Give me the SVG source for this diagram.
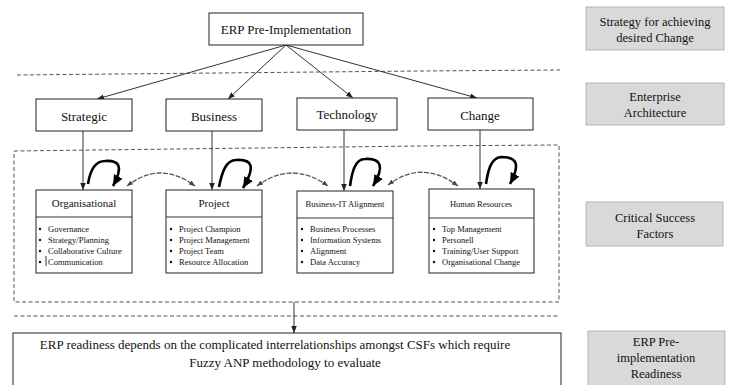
<svg xmlns="http://www.w3.org/2000/svg" width="729" height="385" viewBox="0 0 729 385" font-family="'Liberation Serif', 'DejaVu Serif', serif">
<style>
text{font-family:'Liberation Serif','DejaVu Serif',serif;fill:#111}
.box{fill:#fff;stroke:#222;stroke-width:1}
.grey{fill:#d9d9d9;stroke:#b5b5b5;stroke-width:1}
.t13{font-size:13px;text-anchor:middle}
.tg{font-size:12.5px;text-anchor:middle}
.tt{font-size:11px;text-anchor:middle}
.ts{font-size:8.5px;text-anchor:middle}
.li{font-size:8.5px}
.dash{fill:none;stroke:#555;stroke-width:1;stroke-dasharray:4 2.5}
.ln{fill:none;stroke:#333;stroke-width:1}
.loop{fill:none;stroke:#000;stroke-width:2.6}
.rel{fill:none;stroke:#555;stroke-width:1.3;stroke-dasharray:5 1.5}
</style>
<defs>
<marker id="a" viewBox="0 0 10 10" refX="10" refY="5" markerWidth="7" markerHeight="7" markerUnits="userSpaceOnUse" orient="auto"><path d="M0,1 L10,5 L0,9 z" fill="#222"/></marker>
<marker id="big" viewBox="0 0 10 10" refX="10" refY="5" markerWidth="11" markerHeight="11" markerUnits="userSpaceOnUse" orient="auto"><path d="M0,0.5 L10,5 L0,9.5 z" fill="#000"/></marker>
<marker id="r" viewBox="0 0 10 10" refX="10" refY="5" markerWidth="6" markerHeight="6" markerUnits="userSpaceOnUse" orient="auto"><path d="M0,1 L10,5 L0,9 z" fill="#444"/></marker>
<marker id="rs" viewBox="0 0 10 10" refX="0" refY="5" markerWidth="6" markerHeight="6" markerUnits="userSpaceOnUse" orient="auto"><path d="M10,1 L0,5 L10,9 z" fill="#444"/></marker>
</defs>

<g id="bands">
<path class="dash" d="M17 75 L420 71 L560 70"/>
<path class="dash" d="M14 151 L420 146 L559 145 L559 302 L14 302 Z"/>
<path class="dash" d="M14 316 L560 316"/>
</g>

<g id="connectors">
<path class="ln" d="M286 45 L97 99" marker-end="url(#a)"/>
<path class="ln" d="M286 45 L228 99" marker-end="url(#a)"/>
<path class="ln" d="M286 45 L353 98" marker-end="url(#a)"/>
<path class="ln" d="M286 45 L477 98" marker-end="url(#a)"/>
<path class="ln" d="M83 131 L83 190" marker-end="url(#a)"/>
<path class="ln" d="M212 131 L212 190" marker-end="url(#a)"/>
<path class="ln" d="M344 130 L344 191" marker-end="url(#a)"/>
<path class="ln" d="M480 130 L480 189" marker-end="url(#a)"/>
<path class="ln" d="M294 302 L294 333" marker-end="url(#a)"/>
<path class="loop" d="M88 184 C90 171 95 161 105 161 C119 160 124 166 113 186" marker-end="url(#big)"/>
<path class="loop" d="M219 187 C222 172 226 160 236 160 C252 159 256 166 243 188" marker-end="url(#big)"/>
<path class="loop" d="M350 186 C352 172 355 159 365 159 C381 158 385 166 373 186" marker-end="url(#big)"/>
<path class="loop" d="M486 184 C488 170 491 158 501 157 C518 157 520 165 510 184" marker-end="url(#big)"/>
<path class="rel" d="M127 186 Q160 160 195 186" marker-start="url(#rs)" marker-end="url(#r)"/>
<path class="rel" d="M257 186 Q292 160 328 186" marker-start="url(#rs)" marker-end="url(#r)"/>
<path class="rel" d="M388 185 Q422 159 458 186" marker-start="url(#rs)" marker-end="url(#r)"/>
</g>

<g id="erp-pre-implementation">
<rect class="box" x="209" y="13" width="154" height="32"/>
<text class="t13" x="286" y="34">ERP Pre-Implementation</text>
</g>

<g id="strategic"><rect class="box" x="36" y="99" width="96" height="32"/><text class="t13" x="84" y="121">Strategic</text></g>
<g id="business"><rect class="box" x="166" y="99" width="96" height="32"/><text class="t13" x="214" y="121">Business</text></g>
<g id="technology"><rect class="box" x="297" y="98" width="100" height="32"/><text class="t13" x="347" y="119">Technology</text></g>
<g id="change"><rect class="box" x="428" y="98" width="105" height="32"/><text class="t13" x="480" y="120">Change</text></g>

<g id="organisational">
<rect class="box" x="36" y="190" width="96" height="83"/>
<line class="ln" x1="36" y1="217" x2="132" y2="217"/>
<text class="tt" x="84" y="207">Organisational</text>
<g fill="#111"><circle cx="40" cy="229" r="1.2"/><circle cx="40" cy="240" r="1.2"/><circle cx="40" cy="251" r="1.2"/><circle cx="40" cy="262" r="1.2"/></g>
<line class="ln" x1="46" y1="256" x2="46" y2="266"/>
<text class="li" x="48" y="232">Governance</text>
<text class="li" x="48" y="243">Strategy/Planning</text>
<text class="li" x="48" y="254">Collaborative Culture</text>
<text class="li" x="48" y="265">Communication</text>
</g>

<g id="project">
<rect class="box" x="166" y="190" width="96" height="83"/>
<line class="ln" x1="166" y1="217" x2="262" y2="217"/>
<text class="tt" x="214" y="207">Project</text>
<g fill="#111"><circle cx="171" cy="229" r="1.2"/><circle cx="171" cy="240" r="1.2"/><circle cx="171" cy="251" r="1.2"/><circle cx="171" cy="262" r="1.2"/></g>
<text class="li" x="179" y="232">Project Champion</text>
<text class="li" x="179" y="243">Project Management</text>
<text class="li" x="179" y="254">Project Team</text>
<text class="li" x="179" y="265">Resource Allocation</text>
</g>

<g id="business-it-alignment">
<rect class="box" x="297" y="191" width="96" height="82"/>
<line class="ln" x1="297" y1="218" x2="393" y2="218"/>
<text class="ts" x="345" y="207">Business-IT Alignment</text>
<g fill="#111"><circle cx="302" cy="229" r="1.2"/><circle cx="302" cy="240" r="1.2"/><circle cx="302" cy="251" r="1.2"/><circle cx="302" cy="262" r="1.2"/></g>
<text class="li" x="310" y="232">Business Processes</text>
<text class="li" x="310" y="243">Information Systems</text>
<text class="li" x="310" y="254">Alignment</text>
<text class="li" x="310" y="265">Data Accuracy</text>
</g>

<g id="human-resources">
<rect class="box" x="429" y="189" width="105" height="84"/>
<line class="ln" x1="429" y1="218" x2="534" y2="218"/>
<text class="ts" x="481" y="207">Human Resources</text>
<g fill="#111"><circle cx="434" cy="229" r="1.2"/><circle cx="434" cy="240" r="1.2"/><circle cx="434" cy="251" r="1.2"/><circle cx="434" cy="262" r="1.2"/></g>
<text class="li" x="442" y="232">Top Management</text>
<text class="li" x="442" y="243">Personell</text>
<text class="li" x="442" y="254">Training/User Support</text>
<text class="li" x="442" y="265">Organisational Change</text>
</g>

<g id="erp-readiness">
<rect class="box" x="13" y="333" width="548" height="60"/>
<text class="t13" x="275" y="349">ERP readiness depends on the complicated interrelationships amongst CSFs which require</text>
<text class="t13" x="285" y="367">Fuzzy ANP methodology to evaluate</text>
</g>

<g id="label-strategy">
<rect class="grey" x="586" y="7" width="138" height="43"/>
<text class="tg" x="655" y="26">Strategy for achieving</text>
<text class="tg" x="655" y="42">desired Change</text>
</g>
<g id="label-ea">
<rect class="grey" x="586" y="83" width="138" height="42"/>
<text class="tg" x="655" y="101">Enterprise</text>
<text class="tg" x="655" y="117">Architecture</text>
</g>
<g id="label-csf">
<rect class="grey" x="586" y="202" width="137" height="44"/>
<text class="tg" x="655" y="222">Critical Success</text>
<text class="tg" x="655" y="238">Factors</text>
</g>
<g id="label-readiness">
<rect class="grey" x="588" y="331" width="137" height="60"/>
<text class="tg" x="656" y="346">ERP Pre-</text>
<text class="tg" x="656" y="362">implementation</text>
<text class="tg" x="656" y="378">Readiness</text>
</g>
</svg>
